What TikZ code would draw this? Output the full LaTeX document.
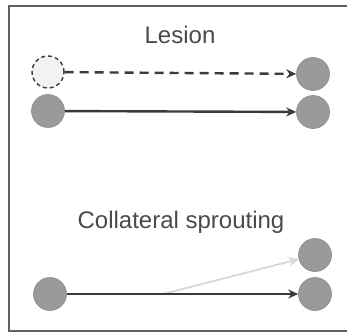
\documentclass[tikz,border=0pt]{standalone}
\usepackage{fontspec}
\setmainfont{Liberation Sans}
\usetikzlibrary{arrows.meta}
\definecolor{nodegray}{HTML}{9A9A9A}
\definecolor{nodeedge}{HTML}{8A8A8A}
\definecolor{txtgray}{HTML}{4A4A4A}
\definecolor{arrowgray}{HTML}{3A3A3A}
\definecolor{sproutgray}{HTML}{D8D8D8}
\tikzset{
  neuron/.style={circle, minimum size=33pt, inner sep=0pt, fill=nodegray, draw=nodeedge, line width=0.6pt},
  lostneuron/.style={circle, minimum size=32pt, inner sep=0pt, fill=gray!10, draw=arrowgray, dashed, dash pattern=on 4pt off 3pt, line width=1.4pt},
  axon/.style={draw=arrowgray, line width=2.4pt, -{Stealth[length=10pt,width=9pt]}},
  title/.style={font=\fontsize{24}{28}\selectfont, text=txtgray, inner sep=0pt},
}
\begin{document}
\begin{tikzpicture}[x=1pt,y=-1pt]
\useasboundingbox (0,0) rectangle (347,334);
\fill[white] (0,0) rectangle (347,334);
\draw[gray!75!black, line width=2pt] (360,6) -- (9,6) -- (9,331) -- (360,331);
\node[title] (lesion) at (180,35) {Lesion};
\node[lostneuron] (a1) at (48,72) {};
\node[neuron] (b1) at (313,74) {};
\node[neuron] (a2) at (48,111) {};
\node[neuron] (b2) at (313,112) {};
\draw[axon, dashed, dash pattern=on 9pt off 6pt] (a1) -- (b1);
\draw[axon] (a2) -- (b2);
\node[title] (sprout) at (181,222) {Collateral sprouting};
\node[neuron] (c1) at (50,294) {};
\node[neuron] (d1) at (315,255) {};
\node[neuron] (d2) at (315,294) {};
\coordinate (branch) at (163,294);
\draw[axon, draw=sproutgray, line width=1.8pt] (branch) -- (d1);
\draw[axon] (c1) -- (d2);
\end{tikzpicture}
\end{document}
